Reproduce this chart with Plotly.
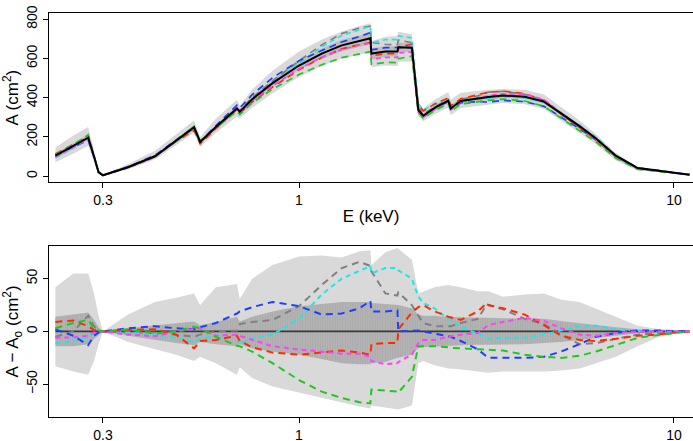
import numpy as np
import plotly.graph_objects as go

# ---------------- data ----------------
energy = [0.224, 0.25, 0.274, 0.284, 0.292, 0.300, 0.35, 0.413, 0.47, 0.525, 0.545,
          0.60, 0.683, 0.695, 0.75, 0.85, 1.0, 1.15, 1.3, 1.45, 1.55,
          1.56, 1.7, 1.83, 1.84, 2.0, 2.08, 2.145, 2.3, 2.5, 2.54,
          2.7, 3.0, 3.17, 3.2, 3.5, 4.0, 4.5, 5.0, 5.6, 6.2,
          7.0, 8.0, 9.0, 10.0, 11.0]

a0 = [104, 152, 196, 100, 20, 4, 45, 101, 180, 249, 174,
      250, 345, 328, 392, 474, 564, 625, 667, 690, 703,
      625, 636, 636, 657, 655, 337, 308, 348, 385, 345,
      383, 397, 402, 403, 411, 405, 380, 320, 255, 192,
      104, 41, 29, 17, 7]

d_red = [9, 10.5, 5, 1.5, 0.5, 0, 1.5, 2, -3, -16, -9,
         -8, -4, -9, -15, -20, -22, -20, -18, -20, -22,
         -12, -11, -11, 2, 18, 23, 25, 19, 14, 13.5,
         11, 19, 27, 25, 22, 16, 6, -4, -8, -9,
         -7, -4, -3, -1, 0]
d_green = [3, 8, 11, 3, 1, 0, 2, -2, 0, 4.5, 3,
           -5, -13.5, -14, -19, -30, -46, -57, -63, -67, -68,
           -55, -56, -57, -58, -43, -14, -14, -14, -15, -15.5,
           -16, -17, -17, -17, -18, -22, -24, -25, -23, -19,
           -13, -6, -3.5, -1.5, 0]
d_blue = [2, -4, -13, -4, -1, 0, 3, 5, 3, 2, 4,
          8, 17, 19, 23, 28, 24, 16, 17, 22, 29,
          19, 19, 20, 0, 1, 1, 0, -2, -5, -5,
          -9, -17, -24, -25, -25, -25, -24, -19, -12, -5,
          -1.5, 1, 1, 0.5, 0]
d_cyan = [-11, -9, -5, -1.5, -0.5, 0, -1, -3, -6, -10, -7,
          -4, -3, -12, -6, -3, 12, 35, 50, 57, 62,
          55, 60, 60, 58, 50, 33, 27, 22, 12, 11,
          4, -2, -6, -7, -6, -6, -3, 1, 5, 5.5,
          2, 0.5, 0, 0, 0]
d_magenta = [-6, -5.5, -4, -1, 0, 0, -3, -4.5, 0, 2, 3,
             -4, -3, -4, -8, -14, -17, -19, -21, -21, -24,
             -28, -31, -30, -29, -22, -11, -8, -8, -5, -4.5,
             -3, -1.5, 5, 6, 9, 13, 10, 3, -3, -4,
             -1.5, 0, 0, 0, 0]
d_gray = [-5, 0, 15, 5, 1, 0, -1, -1, -3, -5, -3,
          0, 1, 7, 9, 11, 24, 44, 60, 66, 62,
          57, 36, 34, 37, 25, 15, 8, 5, 5, 5,
          8, 12, 26, 25, 21, 12, 7, -3, -12, -11,
          -7, -3, -1.5, -0.5, 0]

outer_hi = [42, 55, 55, 36, 15, 0, 16, 28, 32, 36, 25,
            42, 45, 31, 50, 63, 71, 72, 70, 76, 77,
            63, 75, 79, 79, 68, 36, 38, 42, 44, 44,
            42, 38, 38, 38, 33, 35, 36, 30, 28, 22,
            14, 5.5, 2.5, 1, 0]
outer_lo = [-33, -38, -41, -28, -12, 0, -10, -17, -22, -28, -24,
            -30, -41, -34, -44, -52, -58, -63, -67, -71, -73,
            -70, -72, -74, -74, -70, -30, -28, -32, -35, -35,
            -36, -38, -39, -39, -38, -38, -38, -37, -35, -30,
            -24, -14, -6, -2, 0]
inner_hi = [14, 16, 18, 11, 4, 0, 3, 6, 8, 9.4, 6,
            9, 14, 9.4, 14, 19, 24, 26, 28, 28, 28,
            27, 26, 25, 25, 22, 16, 15, 15, 14, 14,
            13.5, 13, 13, 13, 12.6, 12, 12, 10, 8, 6,
            4, 2, 1, 0.5, 0]
inner_lo = [-14, -14, -12, -7, -3, 0, -4, -8, -11, -13, -10,
            -12, -14, -12, -16, -19, -22, -26, -30, -31, -31,
            -30, -29, -25, -25, -22, -16, -15, -14, -13.5, -13.5,
            -13, -12.6, -12.6, -12.6, -12.6, -12, -11, -10, -8, -6,
            -4, -2, -1, -0.5, 0]

x_ticks = [0.3, 1, 10]
x_ticktext = ["0.3", "1", "10"]
top_yticks = [0, 200, 400, 600, 800]
bot_yticks = [-50, 0, 50]
bot_yticktext = ["\u221250", "0", "50"]

series = [
    ("gray", d_gray, "#808080", "7px,5px"),
    ("cyan", d_cyan, "#1ae8e8", "5px,4px"),
    ("blue", d_blue, "#1f3fff", "7px,5px"),
    ("red", d_red, "#ff2a00", "7px,5px"),
    ("magenta", d_magenta, "#ff40ff", "5px,4px"),
    ("green", d_green, "#1ec81e", "7px,5px"),
]

# ---------------- figure ----------------
E = np.array(energy)
A0 = np.array(a0)
fig = go.Figure()

LIGHT = "#d9d9d9"
DARK_TOP = "#bcbcbc"
DARK_BOT = "#b3b3b3"


def band(lo, hi, color, xa, ya, pattern=None):
    xs = list(E) + list(E[::-1])
    ys = list(lo) + list(np.array(hi)[::-1])
    kw = {}
    if pattern:
        kw["fillpattern"] = pattern
    fig.add_trace(go.Scatter(x=xs, y=ys, fill="toself", fillcolor=color,
                             line=dict(width=0), mode="lines", hoverinfo="skip",
                             showlegend=False, xaxis=xa, yaxis=ya, **kw))


# top panel
band(A0 + np.array(outer_lo), A0 + np.array(outer_hi), LIGHT, "x", "y")
band(A0 + np.array(inner_lo), A0 + np.array(inner_hi), DARK_TOP, "x", "y")
for name, d, col, dash in series:
    fig.add_trace(go.Scatter(x=E, y=A0 + np.array(d), mode="lines", name=name,
                             line=dict(color=col, width=1.7, dash=dash),
                             showlegend=False, xaxis="x", yaxis="y"))
fig.add_trace(go.Scatter(x=E, y=A0, mode="lines", line=dict(color="black", width=2),
                         showlegend=False, xaxis="x", yaxis="y"))

# bottom panel
band(outer_lo, outer_hi, LIGHT, "x2", "y2")
band(inner_lo, inner_hi, DARK_BOT, "x2", "y2",
     pattern=dict(shape="|", fgcolor="#a3a3a3", bgcolor=DARK_BOT, size=2.5, solidity=0.3))
fig.add_trace(go.Scatter(x=E, y=A0 - A0, mode="lines", line=dict(color="#3a3a3a", width=1.8),
                         showlegend=False, xaxis="x2", yaxis="y2"))
for name, d, col, dash in series:
    fig.add_trace(go.Scatter(x=E, y=d, mode="lines", name=name,
                             line=dict(color=col, width=2, dash=dash),
                             showlegend=False, xaxis="x2", yaxis="y2"))

xr = [np.log10(0.2154), np.log10(11.24)]
axis_common = dict(showline=True, linecolor="black", linewidth=1, ticks="outside",
                   ticklen=5, tickcolor="black", tickwidth=1, showgrid=False,
                   zeroline=False, automargin=False)

H = 441 - 12.7 - 23.7
fig.update_layout(
    width=693, height=441,
    margin=dict(l=49, r=0, t=12.7, b=23.7, autoexpand=False),
    paper_bgcolor="white", plot_bgcolor="white",
    font=dict(family="Liberation Sans, Arial, Helvetica, sans-serif", size=14, color="black"),
    showlegend=False,
    xaxis=dict(type="log", range=xr, domain=[0, 1], anchor="y", mirror=True,
               tickvals=x_ticks, ticktext=x_ticktext,
               title=dict(text="E (keV)", standoff=2), **axis_common),
    yaxis=dict(range=[-32, 832], domain=[(417.3 - 182.3) / H, 1], anchor="x",
               tickvals=top_yticks, tickangle=-90,
               title=dict(text="A (cm<sup>2</sup>)", standoff=2), **axis_common),
    xaxis2=dict(type="log", range=xr, domain=[0, 1], anchor="y2", mirror=True,
                tickvals=x_ticks, ticktext=x_ticktext, **axis_common),
    yaxis2=dict(range=[-81, 81], domain=[0, (417.3 - 246) / H], anchor="x2",
                tickvals=bot_yticks, ticktext=bot_yticktext, tickangle=-90,
                title=dict(text="A \u2212 A<sub>o</sub> (cm<sup>2</sup>)", standoff=2),
                **axis_common),
)

fig.write_html("out.html", config={"displayModeBar": False},
               post_script="document.body.style.margin='0';document.body.style.overflow='hidden';")
